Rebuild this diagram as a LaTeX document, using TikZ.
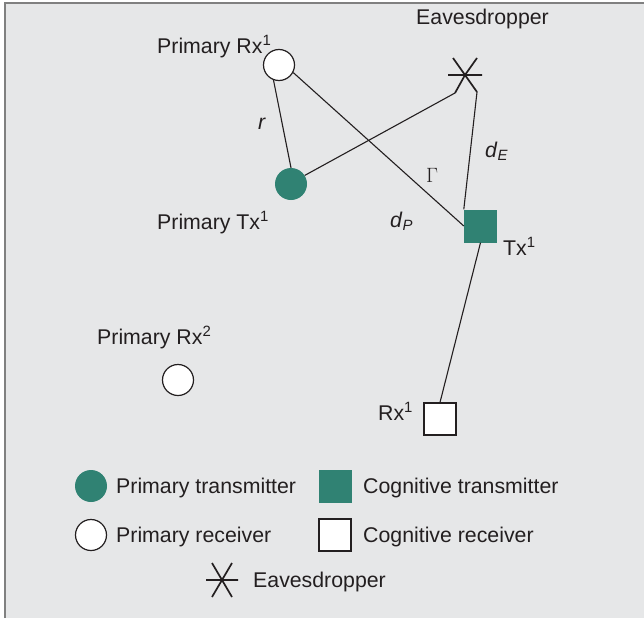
\documentclass[tikz,border=0pt]{standalone}
\usepackage{fontspec}
\setmainfont{Liberation Sans}
\usetikzlibrary{calc}
\definecolor{bg}{RGB}{230,231,232}
\definecolor{tealc}{RGB}{48,130,115}
\definecolor{txt}{RGB}{35,31,32}
\definecolor{framec}{RGB}{128,128,128}
\begin{document}
\begin{tikzpicture}[x=1pt,y=-1pt, font=\fontsize{21.3}{25}\selectfont, text=txt,
  ptx/.style={circle, fill=tealc, minimum size=32pt, inner sep=0pt},
  prx/.style={circle, draw=txt, fill=white, line width=1.2pt, minimum size=31pt, inner sep=0pt},
  ctx/.style={rectangle, fill=tealc, minimum size=33pt, inner sep=0pt},
  crx/.style={rectangle, draw=txt, fill=white, line width=1.2pt, minimum size=32pt, inner sep=0pt},
  link/.style={draw=txt, line width=1.1pt},
  star/.style={draw=txt, line width=1.7pt},
  lbl/.style={inner sep=0pt, anchor=base west}]
\useasboundingbox (0,0) rectangle (644,618);
\fill[white] (0,0) rectangle (644,618);
\fill[bg] (5,3.5) rectangle (644,618);
\draw[framec, line width=2pt] (5,618) -- (5,3.5) -- (644,3.5);

% nodes
\node[prx] (prx1) at (279,65) {};
\node[ptx] (ptx1) at (291,184) {};
\node[ctx] (ctx1) at (480.5,226) {};
\node[crx] (crx1) at (440,419) {};
\node[prx] (prx2) at (178,380) {};
\coordinate (eave) at (465,75);
\coordinate (eavell) at ($(eave)+(-10,18)$);
\coordinate (eavelr) at ($(eave)+(12,17)$);
\draw[star] (eave) -- (eavell) (eave) -- (eavelr)
  (eave) -- +(-12,-17) (eave) -- +(12,-17)
  ($(eave)+(-17,0)$) -- ($(eave)+(17,0)$);

% links
\draw[link] (prx1.-110) -- (ptx1.north);
\draw[link] (prx1.-28) -- (ctx1.west);
\draw[link] (ptx1.32) -- (eavell);
\draw[link] (eavelr) -- (ctx1.north west);
\draw[link] (ctx1.south) -- (crx1.north);

% labels
\node[lbl] (lprx1) at (157,53) {Primary Rx\textsuperscript{1}};
\node[lbl] (leave) at (416,25) {Eavesdropper};
\node[lbl] (lptx1) at (157,229) {Primary Tx\textsuperscript{1}};
\node[lbl] (lr) at (258,129) {\textit{r}};
\node[lbl] (lg) at (426,182) {$\Gamma$};
\node[lbl] (ldp) at (390,227) {\textit{d}\textsubscript{\textit{P}}};
\node[lbl] (lde) at (485,157) {\textit{d}\textsubscript{\textit{E}}};
\node[lbl] (lctx) at (503,255) {Tx\textsuperscript{1}};
\node[lbl] (lprx2) at (97,344) {Primary Rx\textsuperscript{2}};
\node[lbl] (lcrx) at (378,420) {Rx\textsuperscript{1}};

% legend
\node[ptx] (gptx) at (91,486) {};
\node[lbl] (tptx) at (116,493) {Primary transmitter};
\node[ctx] (gctx) at (335,486) {};
\node[lbl] (tctx) at (363,493) {Cognitive transmitter};
\node[prx] (gprx) at (91,535) {};
\node[lbl] (tprx) at (116,542) {Primary receiver};
\node[crx] (gcrx) at (335,535) {};
\node[lbl] (tcrx) at (363,542) {Cognitive receiver};
\coordinate (geave) at (222,580);
\draw[star] ($(geave)+(-10,-17)$) -- ($(geave)+(10,17)$)
  ($(geave)+(10,-17)$) -- ($(geave)+(-10,17)$)
  ($(geave)+(-16,0)$) -- ($(geave)+(16,0)$);
\node[lbl] (teave) at (253,587) {Eavesdropper};
\end{tikzpicture}
\end{document}
